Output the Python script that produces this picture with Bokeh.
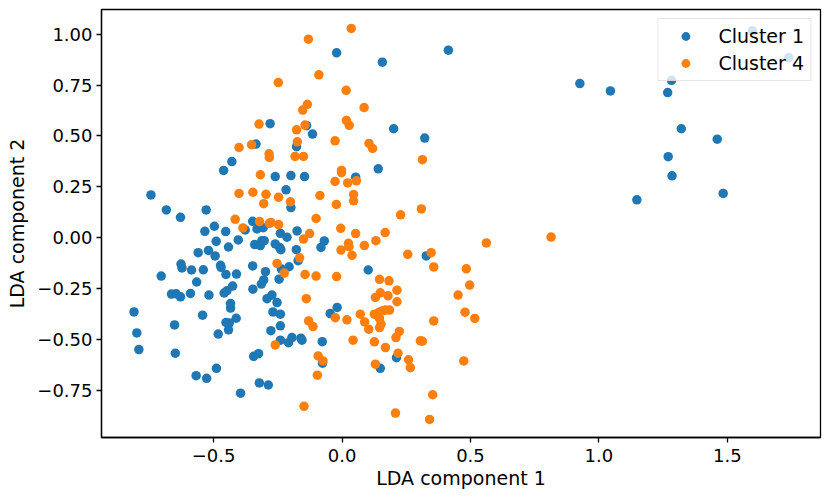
from bokeh.plotting import figure
from bokeh.models import Range1d, FixedTicker
from bokeh.embed import file_html
from bokeh.resources import INLINE

# Cluster 1 (blue)
c1_x = [0.926, 1.045, 1.268, 1.283, 1.598, 1.739, 1.321, 1.461, 1.270, 1.285, 1.484, 1.148,
        0.414, 0.322, -0.021, 0.157, -0.280, -0.138, 0.201, -0.115, -0.177, -0.335, -0.429,
        -0.461, 0.141, -0.260, -0.744, -0.684, -0.629, -0.529, -0.348, -0.497, -0.534, -0.453,
        -0.377, -0.331, -0.307, -0.240, -0.404, -0.490, -0.442, -0.340, -0.318, -0.312, -0.303,
        -0.260, -0.243, -0.560, -0.520, -0.494, -0.627, -0.623, -0.586, -0.540, -0.473, -0.471,
        -0.452, -0.411, -0.348, -0.298, -0.704, -0.566, -0.426, -0.448, -0.459, -0.347, -0.314,
        -0.305, -0.664, -0.646, -0.629, -0.590, -0.518, -0.273, -0.292, -0.810, -0.799, -0.791,
        -0.652, -0.649, -0.543, -0.434, -0.434, -0.452, -0.439, -0.412, -0.442, -0.482, -0.253,
        -0.269, -0.240, -0.277, -0.240, -0.240, -0.344, -0.325, -0.489, -0.568, -0.527, -0.395,
        -0.322, -0.287, -0.199, -0.146, 0.053, -0.218, -0.199, -0.214, -0.175, -0.069, -0.082,
        -0.238, -0.178, -0.171, -0.206, -0.236, -0.245, 0.102, -0.208, -0.195, -0.160, -0.156,
        -0.046, -0.019, -0.077, 0.212, 0.149, -0.076, 0.328]
c1_y = [0.757, 0.721, 0.713, 0.773, 1.016, 0.885, 0.535, 0.484, 0.398, 0.304, 0.217, 0.186,
        0.921, 0.489, 0.908, 0.862, 0.560, 0.550, 0.535, 0.509, 0.447, 0.460, 0.374,
        0.330, 0.338, 0.300, 0.210, 0.136, 0.100, 0.136, 0.080, 0.056, 0.031, 0.030,
        0.038, 0.043, 0.049, 0.021, -0.011, -0.018, -0.046, -0.034, -0.039, -0.015, -0.015,
        -0.031, -0.048, -0.074, -0.063, -0.090, -0.130, -0.149, -0.159, -0.158, -0.136, -0.146,
        -0.181, -0.179, -0.139, -0.167, -0.189, -0.218, -0.238, -0.261, -0.272, -0.253, -0.228,
        -0.208, -0.277, -0.276, -0.291, -0.274, -0.282, -0.282, -0.300, -0.365, -0.468, -0.550,
        -0.429, -0.568, -0.381, -0.324, -0.346, -0.417, -0.420, -0.396, -0.453, -0.474, -0.319,
        -0.365, -0.376, -0.457, -0.433, -0.504, -0.583, -0.570, -0.642, -0.678, -0.691, -0.764,
        -0.714, -0.724, 0.305, 0.300, 0.297, 0.235, 0.148, 0.002, 0.033, -0.016, -0.048,
        -0.059, -0.059, -0.113, -0.143, -0.154, -0.204, -0.159, -0.516, -0.491, -0.494, -0.504,
        -0.373, -0.343, -0.511, -0.590, -0.642, -0.617, -0.090]

# Cluster 4 (orange)
c4_x = [0.313, 0.036, -0.131, -0.090, -0.248, 0.016, -0.135, -0.153, 0.086, -0.323, -0.144,
        0.017, 0.028, -0.177, -0.174, -0.027, 0.105, 0.119, -0.401, -0.352, -0.284, -0.283,
        -0.183, -0.150, -0.002, -0.318, -0.401, -0.347, -0.296, -0.305, -0.247, -0.416, -0.386,
        -0.321, -0.283, -0.277, -0.247, -0.253, -0.002, -0.027, 0.022, 0.056, -0.201, -0.086,
        -0.022, 0.045, 0.045, 0.228, 0.309, -0.150, -0.126, -0.101, -0.005, 0.053, 0.168,
        0.132, 0.025, 0.027, -0.004, 0.039, 0.087, 0.256, -0.165, -0.225, -0.144, -0.101,
        -0.021, 0.146, 0.183, 0.214, 0.149, 0.130, 0.179, -0.139, -0.026, -0.130, -0.113,
        0.019, 0.071, 0.088, 0.104, 0.043, 0.126, 0.169, 0.126, 0.143, 0.156, 0.169, 0.185,
        0.146, 0.152, 0.146, 0.214, 0.223, 0.210, 0.218, 0.259, 0.266, 0.305, 0.130, -0.093,
        -0.074, -0.096, -0.148, 0.208, 0.814, 0.562, 0.347, 0.357, 0.484, 0.497, 0.452,
        0.479, 0.517, 0.357, 0.313, 0.474, 0.353, 0.341, -0.260]
c4_y = [0.383, 1.028, 0.975, 0.800, 0.762, 0.724, 0.655, 0.627, 0.639, 0.558, 0.553,
        0.576, 0.552, 0.530, 0.471, 0.476, 0.463, 0.438, 0.443, 0.457, 0.412, 0.394,
        0.399, 0.399, 0.330, 0.309, 0.217, 0.223, 0.213, 0.167, 0.199, 0.090, 0.048,
        0.079, 0.070, 0.075, 0.064, -0.127, 0.319, 0.276, 0.269, 0.279, 0.176, 0.207,
        0.163, 0.212, 0.181, 0.112, 0.141, -0.007, 0.020, 0.094, 0.046, 0.020, 0.025,
        -0.015, -0.028, -0.044, -0.061, -0.087, -0.039, -0.082, -0.099, -0.174, -0.181, -0.189,
        -0.191, -0.205, -0.212, -0.258, -0.271, -0.294, -0.286, -0.300, -0.393, -0.409, -0.437,
        -0.404, -0.376, -0.414, -0.450, -0.504, -0.512, -0.540, -0.376, -0.368, -0.360, -0.356, -0.356,
        -0.397, -0.425, -0.442, -0.315, -0.461, -0.491, -0.568, -0.600, -0.639, -0.507, -0.622, -0.581,
        -0.606, -0.676, -0.829, -0.862, 0.003, -0.026, -0.074, -0.144, -0.153, -0.233, -0.282,
        -0.366, -0.397, -0.409, -0.509, -0.606, -0.772, -0.893, -0.527]

x_ticks = [-0.5, 0.0, 0.5, 1.0, 1.5]
x_tick_labels = ["\u22120.5", "0.0", "0.5", "1.0", "1.5"]
y_ticks = [-0.75, -0.5, -0.25, 0.0, 0.25, 0.5, 0.75, 1.0]
y_tick_labels = ["\u22120.75", "\u22120.50", "\u22120.25", "0.00", "0.25", "0.50", "0.75", "1.00"]

FONT = "DejaVu Sans"

p = figure(width=822, height=491, output_backend="svg", toolbar_location=None,
           x_range=Range1d(-0.9365, 1.863), y_range=Range1d(-0.982, 1.121),
           min_border_left=101, min_border_right=2, min_border_top=9, min_border_bottom=53)

p.scatter(c1_x, c1_y, size=9.5, color="#1f77b4", line_color=None, legend_label="Cluster 1")
p.scatter(c4_x, c4_y, size=9.5, color="#ff7f0e", line_color=None, legend_label="Cluster 4")

p.grid.visible = False
p.outline_line_color = "black"
p.outline_line_width = 1.3

for ax, ticks, labels in ((p.xaxis[0], x_ticks, x_tick_labels), (p.yaxis[0], y_ticks, y_tick_labels)):
    ax.ticker = FixedTicker(ticks=ticks, minor_ticks=[])
    ax.major_label_overrides = {t: l for t, l in zip(ticks, labels)}
    ax.major_label_text_font = FONT
    ax.major_label_text_font_size = "18px"
    ax.major_label_text_color = "black"
    ax.axis_label_text_font = FONT
    ax.axis_label_text_font_size = "19px"
    ax.axis_label_text_font_style = "normal"
    ax.axis_label_text_color = "black"
    ax.axis_line_color = "black"
    ax.axis_line_width = 1.3
    ax.major_tick_line_color = "black"
    ax.major_tick_line_width = 1.3
    ax.major_tick_out = 5
    ax.major_tick_in = 0
    ax.minor_tick_line_color = None

p.xaxis.axis_label = "LDA component 1"
p.yaxis.axis_label = "LDA component 2"
p.xaxis.major_label_standoff = 6
p.yaxis.major_label_standoff = 4
p.xaxis.axis_label_standoff = 2
p.yaxis.axis_label_standoff = 6

lg = p.legend[0]
lg.location = "top_right"
lg.margin = 9
lg.padding = 6
lg.spacing = 5
lg.glyph_width = 42
lg.glyph_height = 22
lg.label_standoff = 12
lg.label_text_font = FONT
lg.label_text_font_size = "19px"
lg.label_text_color = "black"
lg.border_line_color = "#cccccc"
lg.border_line_width = 1
lg.background_fill_alpha = 0.8

open("out.html", "w").write(file_html(p, INLINE))
